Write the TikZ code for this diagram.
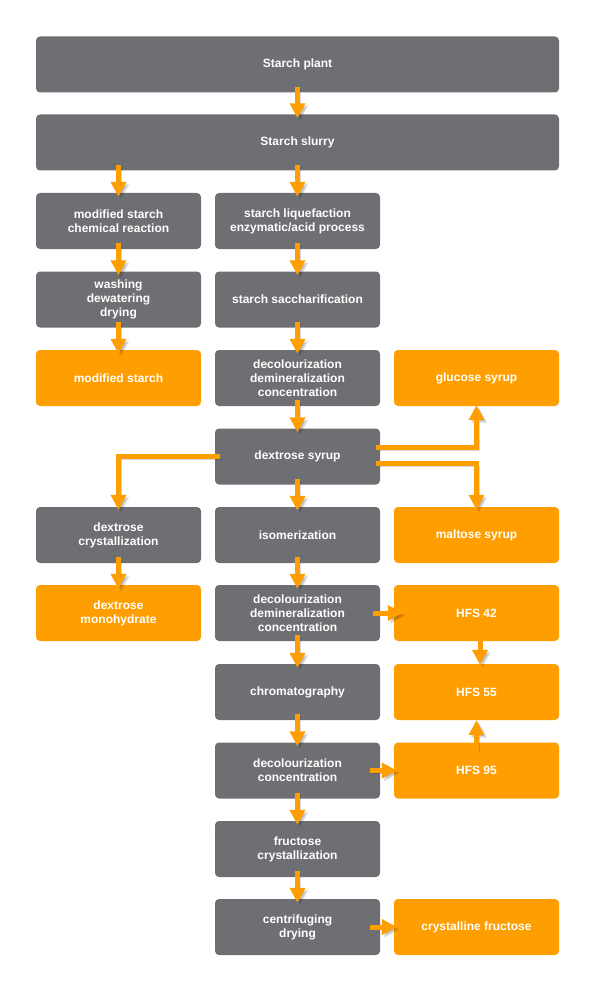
\documentclass[tikz,border=0pt]{standalone}
\usepackage{fontspec}
\setmainfont{Liberation Sans}
\usetikzlibrary{arrows.meta}
\definecolor{plantgray}{RGB}{110,111,115}
\definecolor{syruporange}{RGB}{255,158,0}
\begin{document}
\begin{tikzpicture}[x=1pt,y=-1pt,
  box/.style={rounded corners=4pt, minimum width=165pt, minimum height=56pt,
    inner sep=2pt, align=center, text=white,
    font=\bfseries\fontsize{12}{14}\selectfont},
  process/.style={box, fill=plantgray},
  product/.style={box, fill=syruporange},
  wide/.style={minimum width=523pt},
  flow/.style={draw=syruporange, line width=5pt,
    -{Triangle[width=15pt,length=15pt]},
    preaction={draw=black, opacity=.15,
      transform canvas={xshift=2.5pt,yshift=-2.5pt}}}]
\def\leftcol{118.5}
\def\midcol{297.5}
\def\rightcol{476.5}

\useasboundingbox (0,0) rectangle (595,992);

% feed
\node[process,wide] (plant) at (\midcol,64.5) {Starch plant};
\node[process,wide] (slurry) at (\midcol,142.5) {Starch slurry};

% modified starch branch
\node[process] (modreact) at (\leftcol,221) {modified starch\\chemical reaction};
\node[process] (washing) at (\leftcol,299.5) {washing\\dewatering\\drying};
\node[product] (modstarch) at (\leftcol,378) {modified starch};

% main line
\node[process] (liquef) at (\midcol,221) {starch liquefaction\\enzymatic/acid process};
\node[process] (saccha) at (\midcol,299.5) {starch saccharification};
\node[process] (decolone) at (\midcol,378) {decolourization\\demineralization\\concentration};
\node[process] (dexsyrup) at (\midcol,456.5) {dextrose syrup};
\node[process] (isomer) at (\midcol,535) {isomerization};
\node[process] (decoltwo) at (\midcol,613) {decolourization\\demineralization\\concentration};
\node[process] (chroma) at (\midcol,692) {chromatography};
\node[process] (decolthree) at (\midcol,770.5) {decolourization\\concentration};
\node[process] (fruccryst) at (\midcol,849) {fructose\\crystallization};
\node[process] (centri) at (\midcol,927) {centrifuging\\drying};

% dextrose branch
\node[process] (dexcryst) at (\leftcol,535) {dextrose\\crystallization};
\node[product] (dexmono) at (\leftcol,613) {dextrose\\monohydrate};

% syrups and sugars
\node[product] (glucose) at (\rightcol,378) {glucose syrup};
\node[product] (maltose) at (\rightcol,535) {maltose syrup};
\node[product] (hfsfortytwo) at (\rightcol,613) {HFS 42};
\node[product] (hfsfiftyfive) at (\rightcol,692) {HFS 55};
\node[product] (hfsninetyfive) at (\rightcol,770.5) {HFS 95};
\node[product] (crystfruc) at (\rightcol,927) {crystalline fructose};

% vertical flows
\draw[flow] ([yshift=6pt]plant.south) -- ([yshift=-4pt]slurry.north);
\draw[flow] ([yshift=6pt]modreact.north |- slurry.south) -- ([yshift=-4pt]modreact.north);
\draw[flow] ([yshift=6pt]liquef.north |- slurry.south) -- ([yshift=-4pt]liquef.north);
\draw[flow] ([yshift=6pt]modreact.south) -- ([yshift=-4pt]washing.north);
\draw[flow] ([yshift=6pt]washing.south) -- ([yshift=-4pt]modstarch.north);
\draw[flow] ([yshift=6pt]liquef.south) -- ([yshift=-4pt]saccha.north);
\draw[flow] ([yshift=6pt]saccha.south) -- ([yshift=-4pt]decolone.north);
\draw[flow] ([yshift=6pt]decolone.south) -- ([yshift=-4pt]dexsyrup.north);
\draw[flow] ([yshift=6pt]dexsyrup.south) -- ([yshift=-4pt]isomer.north);
\draw[flow] ([yshift=6pt]isomer.south) -- ([yshift=-4pt]decoltwo.north);
\draw[flow] ([yshift=6pt]decoltwo.south) -- ([yshift=-4pt]chroma.north);
\draw[flow] ([yshift=6pt]chroma.south) -- ([yshift=-4pt]decolthree.north);
\draw[flow] ([yshift=6pt]decolthree.south) -- ([yshift=-4pt]fruccryst.north);
\draw[flow] ([yshift=6pt]fruccryst.south) -- ([yshift=-4pt]centri.north);
\draw[flow] ([yshift=6pt]dexcryst.south) -- ([yshift=-4pt]dexmono.north);

% dextrose syrup splits
\draw[flow] ([xshift=5pt]dexsyrup.west) -| ([yshift=-3pt]dexcryst.north);
\draw[flow] ([xshift=-4pt,yshift=9pt]dexsyrup.east) -| ([yshift=1pt]glucose.south);
\draw[flow] ([xshift=-4pt,yshift=-7pt]dexsyrup.east) -| ([yshift=-3pt]maltose.north);

% side products
\draw[flow] ([xshift=-7pt]decoltwo.east) -- ([xshift=9pt]hfsfortytwo.west);
\draw[flow] ([xshift=-10pt]decolthree.east) -- ([xshift=3pt]hfsninetyfive.west);
\draw[flow] ([xshift=-10pt]centri.east) -- ([xshift=3pt]crystfruc.west);
\draw[flow] ([xshift=3.5pt,yshift=6pt]hfsfortytwo.south) -- ([xshift=3.5pt,yshift=-1pt]hfsfiftyfive.north);
\draw[flow] ([yshift=-6pt]hfsninetyfive.north) -- (hfsfiftyfive.south);

\end{tikzpicture}
\end{document}
